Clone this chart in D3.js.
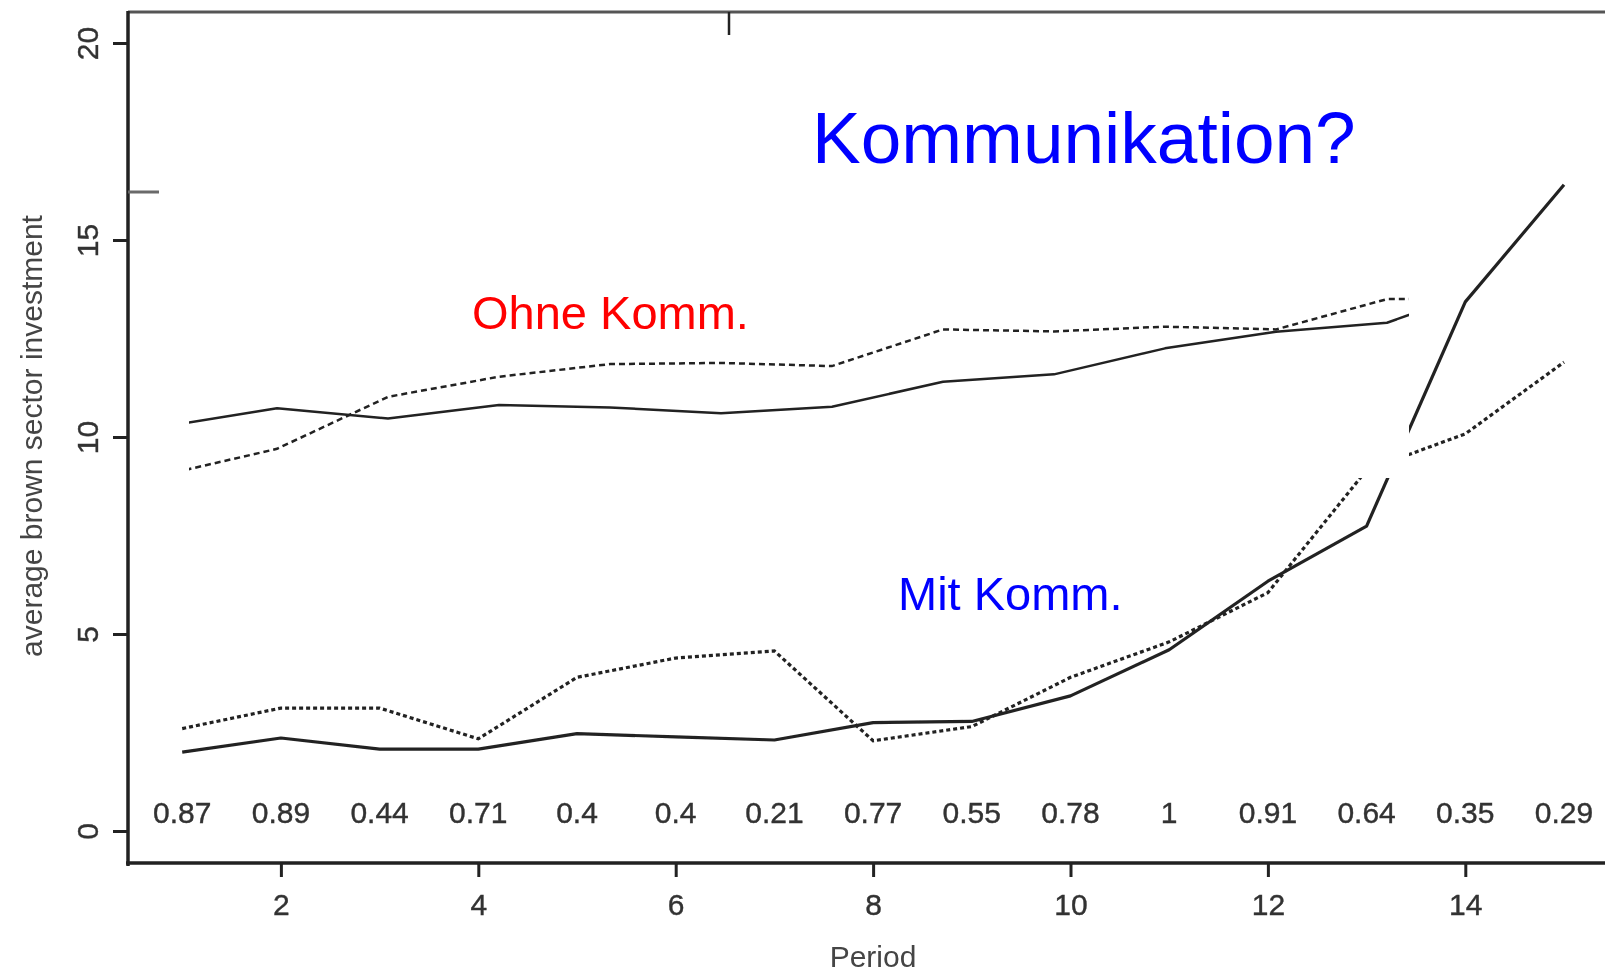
<!DOCTYPE html>
<html>
<head>
<meta charset="utf-8">
<script src="https://cdn.jsdelivr.net/npm/d3@7"></script>
<style>
  html, body { margin: 0; padding: 0; background: #fff; overflow: hidden; }
  svg { display: block; font-family: "Liberation Sans", Arial, sans-serif; }
</style>
</head>
<body>
<script>
var w = 1605;
var h = 973;

// periods of the main plot and the ratio printed over each period
var periods = [1, 2, 3, 4, 5, 6, 7, 8, 9, 10, 11, 12, 13, 14, 15];
var ratios = ["0.87", "0.89", "0.44", "0.71", "0.4", "0.4", "0.21", "0.77",
              "0.55", "0.78", "1", "0.91", "0.64", "0.35", "0.29"];

// "Mit Komm." series
var mitSolid  = [2.0, 2.36, 2.08, 2.08, 2.47, 2.39, 2.31, 2.75, 2.78, 3.43, 4.6, 6.34, 7.74, 13.43, 16.4];
var mitDashed = [2.6, 3.12, 3.12, 2.34, 3.9, 4.39, 4.57, 2.29, 2.65, 3.9, 4.8, 6.05, 9.16, 10.08, 11.9];

// "Ohne Komm." series (pasted-in plot, its own period spacing)
var ohnePeriods = [1, 2, 3, 4, 5, 6, 7, 8, 9, 10, 11, 12, 13];
var ohneSolid  = [10.27, 10.73, 10.47, 10.81, 10.75, 10.6, 10.77, 11.4, 11.59, 12.25, 12.67, 12.9, 13.9];
var ohneDashed = [9.05, 9.7, 11.02, 11.53, 11.85, 11.88, 11.8, 12.73, 12.68, 12.8, 12.73, 13.5, 13.5];

var xTicks = [2, 4, 6, 8, 10, 12, 14];
var yTicks = [0, 5, 10, 15, 20];

var xScale = d3.scaleLinear().domain([1, 15]).range([182.2, 1564]);
var yScale = d3.scaleLinear().domain([0, 20]).range([831, 43]);
var xOhne  = d3.scaleLinear().domain([1, 13]).range([166, 1498]);

var svg = d3.select("body").append("svg")
    .attr("width", w)
    .attr("height", h);

var defs = svg.append("defs");
defs.append("filter").attr("id", "soft")
    .append("feGaussianBlur").attr("stdDeviation", 0.6);
defs.append("clipPath").attr("id", "ohneClip")
    .append("rect").attr("x", 189).attr("y", 40).attr("width", 1409 - 189).attr("height", 478 - 40);

var base = svg.append("g").attr("filter", "url(#soft)");
var ink = "#222";

// box lines
base.append("line").attr("x1", 128).attr("x2", w).attr("y1", 12).attr("y2", 12)
    .attr("stroke", "#555").attr("stroke-width", 3);
base.append("line").attr("x1", 128).attr("x2", 128).attr("y1", 11).attr("y2", 866)
    .attr("stroke", ink).attr("stroke-width", 3.5);
base.append("line").attr("x1", 126).attr("x2", w).attr("y1", 863).attr("y2", 863)
    .attr("stroke", ink).attr("stroke-width", 3.5);

// y axis
var yAxis = d3.axisLeft(yScale).tickValues(yTicks).tickSize(15).tickPadding(0).tickFormat(d3.format("d"));
var gy = base.append("g").attr("transform", "translate(128,0)").call(yAxis);
gy.select(".domain").remove();
gy.selectAll(".tick line").attr("stroke", ink).attr("stroke-width", 3);
gy.selectAll(".tick text")
    .attr("transform", "rotate(-90)")
    .attr("x", 0).attr("y", -30).attr("dy", 0)
    .attr("text-anchor", "middle")
    .attr("fill", "#333")
    .attr("stroke", "#333").attr("stroke-width", 0.4)
    .style("font-size", "30px");

// x axis
var xAxis = d3.axisBottom(xScale).tickValues(xTicks).tickSize(14).tickPadding(0);
var gx = base.append("g").attr("transform", "translate(0,863)").call(xAxis);
gx.select(".domain").remove();
gx.selectAll(".tick line").attr("stroke", ink).attr("stroke-width", 3);
gx.selectAll(".tick text")
    .attr("y", 52).attr("dy", 0)
    .attr("fill", "#333")
    .attr("stroke", "#333").attr("stroke-width", 0.4)
    .style("font-size", "30px");

// ratio labels row
base.selectAll("text.ratio")
    .data(periods)
    .enter()
    .append("text")
    .attr("class", "ratio")
    .attr("x", function (d) { return xScale(d); })
    .attr("y", 823)
    .attr("text-anchor", "middle")
    .attr("fill", "#333")
    .attr("stroke", "#333").attr("stroke-width", 0.4)
    .style("font-size", "30px")
    .text(function (d, i) { return ratios[i]; });

// axis titles
base.append("text")
    .attr("transform", "translate(42,436) rotate(-90)")
    .attr("text-anchor", "middle")
    .attr("fill", "#444")
    .style("font-size", "30px")
    .text("average brown sector investment");
base.append("text")
    .attr("x", 873).attr("y", 967)
    .attr("text-anchor", "middle")
    .attr("fill", "#444")
    .style("font-size", "30px")
    .text("Period");

// Mit Komm. lines
var mitLine = d3.line()
    .x(function (d, i) { return xScale(periods[i]); })
    .y(function (d) { return yScale(d); });

base.append("path").datum(mitSolid)
    .attr("d", mitLine)
    .attr("fill", "none").attr("stroke", ink).attr("stroke-width", 3.2)
    .attr("stroke-linejoin", "round");
base.append("path").datum(mitDashed)
    .attr("d", mitLine)
    .attr("fill", "none").attr("stroke", ink).attr("stroke-width", 3.2)
    .attr("stroke-dasharray", "4,3");

// white patch of the pasted plot
base.append("rect")
    .attr("x", 158).attr("y", 40).attr("width", 1409 - 158).attr("height", 478 - 40)
    .attr("fill", "#fff");

// leftover marks from the pasted plot
base.append("line").attr("x1", 128).attr("x2", 159).attr("y1", 192).attr("y2", 192)
    .attr("stroke", "#6a6a6a").attr("stroke-width", 3);
base.append("line").attr("x1", 729).attr("x2", 729).attr("y1", 12).attr("y2", 35)
    .attr("stroke", ink).attr("stroke-width", 2.5);

// Ohne Komm. lines
var ohneLine = d3.line()
    .x(function (d, i) { return xOhne(ohnePeriods[i]); })
    .y(function (d) { return yScale(d); });

var og = base.append("g").attr("clip-path", "url(#ohneClip)");
og.append("path").datum(ohneSolid)
    .attr("d", ohneLine)
    .attr("fill", "none").attr("stroke", ink).attr("stroke-width", 2.5)
    .attr("stroke-linejoin", "round");
og.append("path").datum(ohneDashed)
    .attr("d", ohneLine)
    .attr("fill", "none").attr("stroke", ink).attr("stroke-width", 2.5)
    .attr("stroke-dasharray", "6,4");

// annotations
svg.append("text")
    .attr("x", 812).attr("y", 163)
    .attr("fill", "#0000ff")
    .style("font-size", "73px")
    .text("Kommunikation?");
svg.append("text")
    .attr("x", 472).attr("y", 329)
    .attr("fill", "#ff0000")
    .style("font-size", "47px")
    .text("Ohne Komm.");
svg.append("text")
    .attr("x", 898).attr("y", 610)
    .attr("fill", "#0000ff")
    .style("font-size", "47px")
    .text("Mit Komm.");
</script>
</body>
</html>
